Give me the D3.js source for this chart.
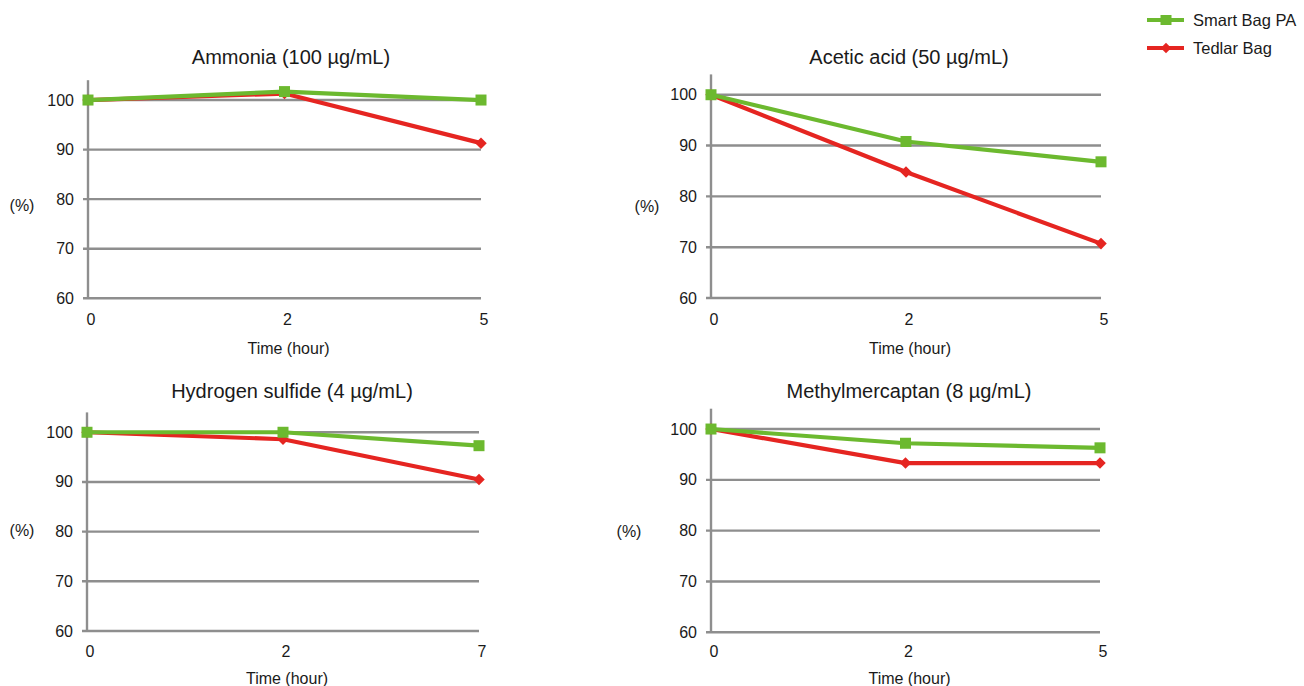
<!DOCTYPE html>
<html>
<head>
<meta charset="utf-8">
<script src="https://cdn.jsdelivr.net/npm/d3@7"></script>
<style>
  html, body { margin: 0; padding: 0; background: #fff; }
  svg text { font-family: "Liberation Sans", Arial, Helvetica, sans-serif; fill: #1a1a1a; }
</style>
</head>
<body>
<svg id="chart" width="1304" height="686"></svg>
<script>
// ---- Data ----
const seriesNames = ["Smart Bag PA", "Tedlar Bag"];
const panelTitles = ["Ammonia (100 µg/mL)", "Acetic acid (50 µg/mL)", "Hydrogen sulfide (4 µg/mL)", "Methylmercaptan (8 µg/mL)"];
const ammoniaTimes = ["0", "2", "5"];
const ammoniaSmart = [100.0, 101.7, 100.0];
const ammoniaTedlar = [100.0, 101.3, 91.3];
const aceticTimes = ["0", "2", "5"];
const aceticSmart = [100.0, 90.8, 86.8];
const aceticTedlar = [100.0, 84.8, 70.7];
const h2sTimes = ["0", "2", "7"];
const h2sSmart = [100.0, 100.0, 97.3];
const h2sTedlar = [100.0, 98.6, 90.5];
const mmTimes = ["0", "2", "5"];
const mmSmart = [100.0, 97.2, 96.3];
const mmTedlar = [100.0, 93.3, 93.3];
const yTicks = [60, 70, 80, 90, 100];
const yLabel = "(%)";
const xLabel = "Time (hour)";

// ---- Layout ----
const colors = { smart: "#6cb92f", tedlar: "#e52521", grid: "#8e8e8e" };
const panels = [
  { title: panelTitles[0], times: ammoniaTimes, smart: ammoniaSmart, tedlar: ammoniaTedlar,
    x0: 88, x1: 481, yTop: 80.2, yBot: 298.3, titleX: 291, titleY: 57, pctX: 22, pctY: 205, xlabY: 319, timeY: 348 },
  { title: panelTitles[1], times: aceticTimes, smart: aceticSmart, tedlar: aceticTedlar,
    x0: 711, x1: 1101, yTop: 74.4, yBot: 298, titleX: 909, titleY: 57, pctX: 647, pctY: 206, xlabY: 319, timeY: 348 },
  { title: panelTitles[2], times: h2sTimes, smart: h2sSmart, tedlar: h2sTedlar,
    x0: 87, x1: 479, yTop: 412.4, yBot: 631, titleX: 292, titleY: 391, pctX: 22, pctY: 530, xlabY: 651, timeY: 678 },
  { title: panelTitles[3], times: mmTimes, smart: mmSmart, tedlar: mmTedlar,
    x0: 711, x1: 1100, yTop: 408.7, yBot: 632.3, titleX: 909, titleY: 391, pctX: 629, pctY: 531, xlabY: 651, timeY: 678 }
];

const svg = d3.select("#chart");

function drawPanel(p) {
  const g = svg.append("g");
  const x = d3.scalePoint().domain(p.times).range([p.x0, p.x1]);
  const y = d3.scaleLinear().domain([60, 104]).range([p.yBot, p.yTop]);

  // gridlines
  g.selectAll("line.grid").data(yTicks).join("line")
    .attr("x1", p.x0 - 5).attr("x2", p.x1)
    .attr("y1", d => y(d)).attr("y2", d => y(d))
    .attr("stroke", colors.grid).attr("stroke-width", 2.4);
  // vertical axis
  g.append("line").attr("x1", p.x0).attr("x2", p.x0)
    .attr("y1", y(104)).attr("y2", y(60))
    .attr("stroke", colors.grid).attr("stroke-width", 2.4);

  // y tick labels
  g.selectAll("text.yt").data(yTicks).join("text")
    .attr("x", p.x0 - 14).attr("y", d => y(d))
    .attr("text-anchor", "end").attr("dominant-baseline", "central")
    .attr("font-size", 16).text(d => d);

  // x tick labels
  g.selectAll("text.xt").data(p.times).join("text")
    .attr("x", d => x(d) + 3).attr("y", p.xlabY)
    .attr("text-anchor", "middle").attr("dominant-baseline", "central")
    .attr("font-size", 16).text(d => d);

  // axis titles
  g.append("text").attr("x", (p.x0 + p.x1) / 2 + 4).attr("y", p.timeY)
    .attr("text-anchor", "middle").attr("dominant-baseline", "central")
    .attr("font-size", 16).text(xLabel);
  g.append("text").attr("x", p.pctX).attr("y", p.pctY)
    .attr("text-anchor", "middle").attr("dominant-baseline", "central")
    .attr("font-size", 16).text(yLabel);

  // title
  g.append("text").attr("x", p.titleX).attr("y", p.titleY)
    .attr("text-anchor", "middle").attr("dominant-baseline", "central")
    .attr("font-size", 20).text(p.title);

  const line = d3.line().x(d => x(d.t)).y(d => y(d.v));

  // Tedlar (red, diamonds) first
  const tData = p.times.map((t, i) => ({ t, v: p.tedlar[i] }));
  g.append("path").datum(tData).attr("d", line)
    .attr("fill", "none").attr("stroke", colors.tedlar).attr("stroke-width", 4.2)
    .attr("stroke-linejoin", "round");
  g.selectAll("path.dia").data(tData).join("path")
    .attr("d", d3.symbol().type(d3.symbolDiamond2).size(85))
    .attr("transform", d => `translate(${x(d.t)},${y(d.v)})`)
    .attr("fill", colors.tedlar);

  // Smart Bag (green, squares)
  const sData = p.times.map((t, i) => ({ t, v: p.smart[i] }));
  g.append("path").datum(sData).attr("d", line)
    .attr("fill", "none").attr("stroke", colors.smart).attr("stroke-width", 4.2)
    .attr("stroke-linejoin", "round");
  g.selectAll("rect.sq").data(sData).join("rect")
    .attr("x", d => x(d.t) - 5.5).attr("y", d => y(d.v) - 5.5)
    .attr("width", 11).attr("height", 11)
    .attr("fill", colors.smart);
}

panels.forEach(drawPanel);

// ---- Legend ----
const legend = svg.append("g");
const legendItems = [
  { name: seriesNames[0], color: colors.smart, y: 20, shape: "square" },
  { name: seriesNames[1], color: colors.tedlar, y: 48, shape: "diamond" }
];
legendItems.forEach(it => {
  legend.append("line").attr("x1", 1147).attr("x2", 1184)
    .attr("y1", it.y).attr("y2", it.y)
    .attr("stroke", it.color).attr("stroke-width", 4);
  if (it.shape === "square") {
    legend.append("rect").attr("x", 1166 - 5.5).attr("y", it.y - 5)
      .attr("width", 11).attr("height", 10).attr("fill", it.color);
  } else {
    legend.append("path").attr("d", d3.symbol().type(d3.symbolDiamond2).size(70))
      .attr("transform", `translate(1166,${it.y})`).attr("fill", it.color);
  }
  legend.append("text").attr("x", 1193).attr("y", it.y)
    .attr("dominant-baseline", "central").attr("font-size", 16.5).text(it.name);
});
</script>
</body>
</html>
